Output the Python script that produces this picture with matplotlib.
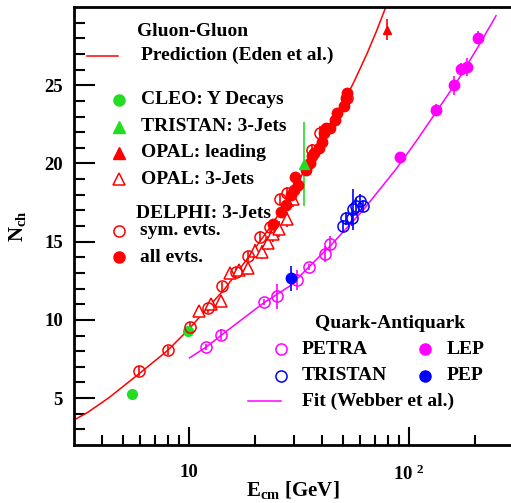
# Gluon-Gluon と Quark-Antiquark の荷電粒子多重度
import numpy as np
from matplotlib import pyplot as plt
from matplotlib.ticker import FixedLocator, FixedFormatter, NullFormatter

plt.rcParams['font.family'] = ['Liberation Serif', 'DejaVu Serif']
plt.rcParams['font.weight'] = 'bold'
plt.rcParams['mathtext.fontset'] = 'custom'
plt.rcParams['mathtext.rm'] = 'Liberation Serif:bold'
plt.rcParams['mathtext.it'] = 'Liberation Serif:bold'
plt.rcParams['mathtext.bf'] = 'Liberation Serif:bold'
plt.rcParams['mathtext.default'] = 'bf'

# データ
cleo_e = [5.51, 9.88]
cleo_n = [5.25, 9.28]

tristan3j_e = [33.1]
tristan3j_n = [19.97]
tristan3j_err = [2.7]

opal_lead_e = [79.5]
opal_lead_n = [28.55]
opal_lead_err = [0.67]

opal3j_e = [11.05, 12.54, 14.03, 15.31, 16.88, 18.44, 19.93, 21.37, 22.9, 24.15, 25.7, 27.8, 29.6]
opal3j_n = [10.59, 11.02, 11.19, 12.99, 13.2, 13.29, 14.41, 14.31, 14.94, 15.47, 15.79, 16.42, 17.7]
opal3j_err = [0.3, 0.3, 0.3, 0.35, 0.35, 0.4, 0.45, 0.45, 0.45, 0.5, 0.5, 0.5, 0.5]

delphi_sym_e = [5.94, 8.0, 10.05, 12.19, 14.18, 16.4, 18.56, 20.97, 23.2, 25.9, 27.96, 36.1, 39.5, 52.2]
delphi_sym_n = [6.72, 8.05, 9.54, 10.75, 12.15, 13.07, 14.09, 15.32, 15.93, 17.7, 18.12, 20.87, 21.97, 24.16]
delphi_sym_err = [0.3, 0.3, 0.3, 0.3, 0.3, 0.3, 0.3, 0.35, 0.35, 0.35, 0.4, 0.4, 0.45, 0.45]

delphi_all_e = [23.99, 26.08, 27.6, 28.9, 29.9, 30.3, 31.3, 34.0, 35.4, 36.1, 37.0, 38.8, 40.2,
                41.2, 42.0, 43.8, 46.1, 47.0, 50.4, 51.6, 51.9]
delphi_all_n = [16.1, 16.89, 17.33, 18.0, 18.33, 19.11, 18.6, 19.6, 20.03, 20.45, 20.66, 20.98, 21.4,
                21.94, 22.25, 22.25, 22.78, 23.2, 23.67, 24.16, 24.48]
delphi_all_err = [0.2] * len(delphi_all_e)

petra_e = [11.98, 14.03, 21.96, 25.0, 30.9, 34.9, 41.6, 43.5]
petra_n = [8.27, 9.05, 11.13, 11.51, 12.55, 13.4, 14.2, 14.88]
petra_err = [0.2, 0.35, 0.2, 0.8, 0.65, 0.2, 0.5, 0.5]

tristan_e = [49.9, 51.7, 55.0, 55.6, 57.5, 59.6, 61.5]
tristan_n = [16.0, 16.49, 16.53, 17.06, 17.27, 17.63, 17.27]
tristan_err = [0.4, 0.4, 0.5, 1.3, 0.5, 0.4, 0.4]

pep_e = [29.0]
pep_n = [12.65]
pep_err = [0.8]

lep_e = [90.8, 132.0, 160.2, 171.8, 182.4, 204.8]
lep_n = [20.38, 23.42, 25.0, 26.02, 26.17, 28.04]
lep_err = [0.3, 0.4, 0.6, 0.4, 0.6, 0.4]

# 理論曲線 (読み取り点)
eden_e = [3.0, 3.45, 4.33, 5.94, 8.0, 10.05, 12.2, 14.5, 18.6, 23.0, 28.3, 33.0, 40.0, 46.0,
          53.1, 57.0, 64.4, 71.0, 78.2, 80.0]
eden_n = [3.6, 4.07, 5.03, 6.57, 8.05, 9.45, 10.81, 11.97, 14.0, 15.8, 17.7, 19.41, 21.24, 22.8,
          24.53, 25.42, 27.04, 28.46, 29.98, 30.4]
webber_e = [10.05, 11.98, 14.27, 21.7, 28.8, 38.7, 43.8, 61.6, 86.7, 108.2, 134.5, 166.0, 204.8, 248.0]
webber_n = [7.57, 8.27, 9.11, 11.06, 12.18, 13.99, 14.73, 17.0, 19.6, 21.47, 23.42, 25.3, 27.42, 29.44]

xtick_vals = [10, 100]
xtick_labels = ['10', '10 $^{2}$']
ytick_vals = [5, 10, 15, 20, 25]

red = '#ff0000'
green = '#22dd22'
mag = '#ff00ff'
blue = '#0000ff'

fig = plt.figure(figsize=(5.11, 5.03), dpi=100)
ax = fig.add_axes([74 / 511, 58 / 503, 437 / 511, 438 / 503])
ax.set_xscale('log')
ax.set_xlim(3, 290)
ax.set_ylim(2, 30)

ax.plot(eden_e, eden_n, color=red, lw=1.1)
ax.plot(webber_e, webber_n, color=mag, lw=1.1)

eb = dict(ls='none', capsize=0, elinewidth=1.2)
ax.errorbar(opal3j_e, opal3j_n, yerr=opal3j_err, marker='^', ms=8, mfc='white', mec=red,
            mew=1.1, ecolor=red, **eb)
ax.errorbar(delphi_sym_e, delphi_sym_n, yerr=delphi_sym_err, marker='o', ms=8, mfc='none',
            mec=red, mew=1.1, ecolor=red, **eb)
ax.errorbar(delphi_all_e, delphi_all_n, yerr=delphi_all_err, marker='o', ms=7.5, color=red, **eb)
ax.errorbar(tristan3j_e, tristan3j_n, yerr=tristan3j_err, marker='^', ms=7, color=green, **eb)
ax.errorbar(opal_lead_e, opal_lead_n, yerr=opal_lead_err, marker='^', ms=6, color=red, **eb)
ax.plot(cleo_e, cleo_n, 'o', ms=7, color=green)

ax.errorbar(petra_e, petra_n, yerr=petra_err, marker='o', ms=8, mfc='none', mec=mag, mew=1.1,
            ecolor=mag, **eb)
ax.errorbar(tristan_e, tristan_n, yerr=tristan_err, marker='o', ms=8, mfc='none', mec=blue,
            mew=1.1, ecolor=blue, **eb)
ax.errorbar(pep_e, pep_n, yerr=pep_err, marker='o', ms=7.5, color=blue, **eb)
ax.errorbar(lep_e, lep_n, yerr=lep_err, marker='o', ms=7.5, color=mag, **eb)

# 凡例 (手で配置)
tr = ax.transAxes
fs = 14
ax.text(0.144, 0.945, 'Gluon-Gluon', transform=tr, fontsize=fs, va='center')
ax.plot([0.0297, 0.1007], [0.889, 0.889], color=red, lw=1.1, transform=tr)
ax.text(0.1526, 0.889, 'Prediction (Eden et al.)', transform=tr, fontsize=fs, va='center')
ax.plot([0.103], [0.788], 'o', ms=8, color=green, transform=tr)
ax.text(0.1526, 0.788, 'CLEO: Y Decays', transform=tr, fontsize=fs, va='center')
ax.plot([0.103], [0.727], '^', ms=8, color=green, transform=tr)
ax.text(0.1526, 0.727, 'TRISTAN: 3-Jets', transform=tr, fontsize=fs, va='center')
ax.plot([0.103], [0.667], '^', ms=8, color=red, transform=tr)
ax.text(0.1526, 0.667, 'OPAL: leading', transform=tr, fontsize=fs, va='center')
ax.plot([0.103], [0.607], '^', ms=8, mfc='white', mec=red, mew=1.1, transform=tr)
ax.text(0.1526, 0.607, 'OPAL: 3-Jets', transform=tr, fontsize=fs, va='center')
ax.text(0.141, 0.529, 'DELPHI: 3-Jets', transform=tr, fontsize=fs, va='center')
ax.plot([0.103], [0.489], 'o', ms=8, mfc='white', mec=red, mew=1.1, transform=tr)
ax.text(0.151, 0.489, 'sym. evts.', transform=tr, fontsize=fs, va='center')
ax.plot([0.103], [0.4285], 'o', ms=8, color=red, transform=tr)
ax.text(0.151, 0.4285, 'all evts.', transform=tr, fontsize=fs, va='center')

ax.text(0.5515, 0.278, 'Quark-Antiquark', transform=tr, fontsize=fs, va='center')
ax.plot([0.4737], [0.2185], 'o', ms=8, mfc='white', mec=mag, mew=1.1, transform=tr)
ax.text(0.521, 0.2185, 'PETRA', transform=tr, fontsize=fs, va='center')
ax.plot([0.8032], [0.2185], 'o', ms=8, color=mag, transform=tr)
ax.text(0.853, 0.2185, 'LEP', transform=tr, fontsize=fs, va='center')
ax.plot([0.4737], [0.158], 'o', ms=8, mfc='white', mec=blue, mew=1.1, transform=tr)
ax.text(0.521, 0.158, 'TRISTAN', transform=tr, fontsize=fs, va='center')
ax.plot([0.8032], [0.158], 'o', ms=8, color=blue, transform=tr)
ax.text(0.853, 0.158, 'PEP', transform=tr, fontsize=fs, va='center')
ax.plot([0.399, 0.4737], [0.1005, 0.1005], color=mag, lw=1.1, transform=tr)
ax.text(0.521, 0.1005, 'Fit (Webber et al.)', transform=tr, fontsize=fs, va='center')

# 軸
ax.xaxis.set_major_locator(FixedLocator(xtick_vals))
ax.xaxis.set_major_formatter(FixedFormatter(xtick_labels))
ax.xaxis.set_minor_locator(FixedLocator([4, 5, 6, 7, 8, 9, 20, 30, 40, 50, 60, 70, 80, 90, 200]))
ax.xaxis.set_minor_formatter(NullFormatter())
ax.yaxis.set_major_locator(FixedLocator(ytick_vals))
ax.yaxis.set_minor_locator(FixedLocator(np.arange(3, 30)))
ax.tick_params(which='both', direction='in', top=False, right=False, width=1.5, labelsize=13.5)
ax.tick_params(axis='y', which='major', length=15, pad=8)
ax.tick_params(axis='y', which='minor', length=8)
ax.tick_params(axis='x', which='major', length=13, pad=14)
ax.tick_params(axis='x', which='minor', length=7)
for s in ['left', 'bottom', 'top']:
    ax.spines[s].set_linewidth(2)
ax.spines['right'].set_visible(False)

fig.text(17 / 511, 1 - 226 / 503, 'N$_{ch}$', rotation=90, fontsize=15, ha='center', va='center')
fig.text(293 / 511, 1 - 490 / 503, 'E$_{cm}$ [GeV]', fontsize=15, ha='center', va='center')

plt.savefig('out.png', dpi=100)
